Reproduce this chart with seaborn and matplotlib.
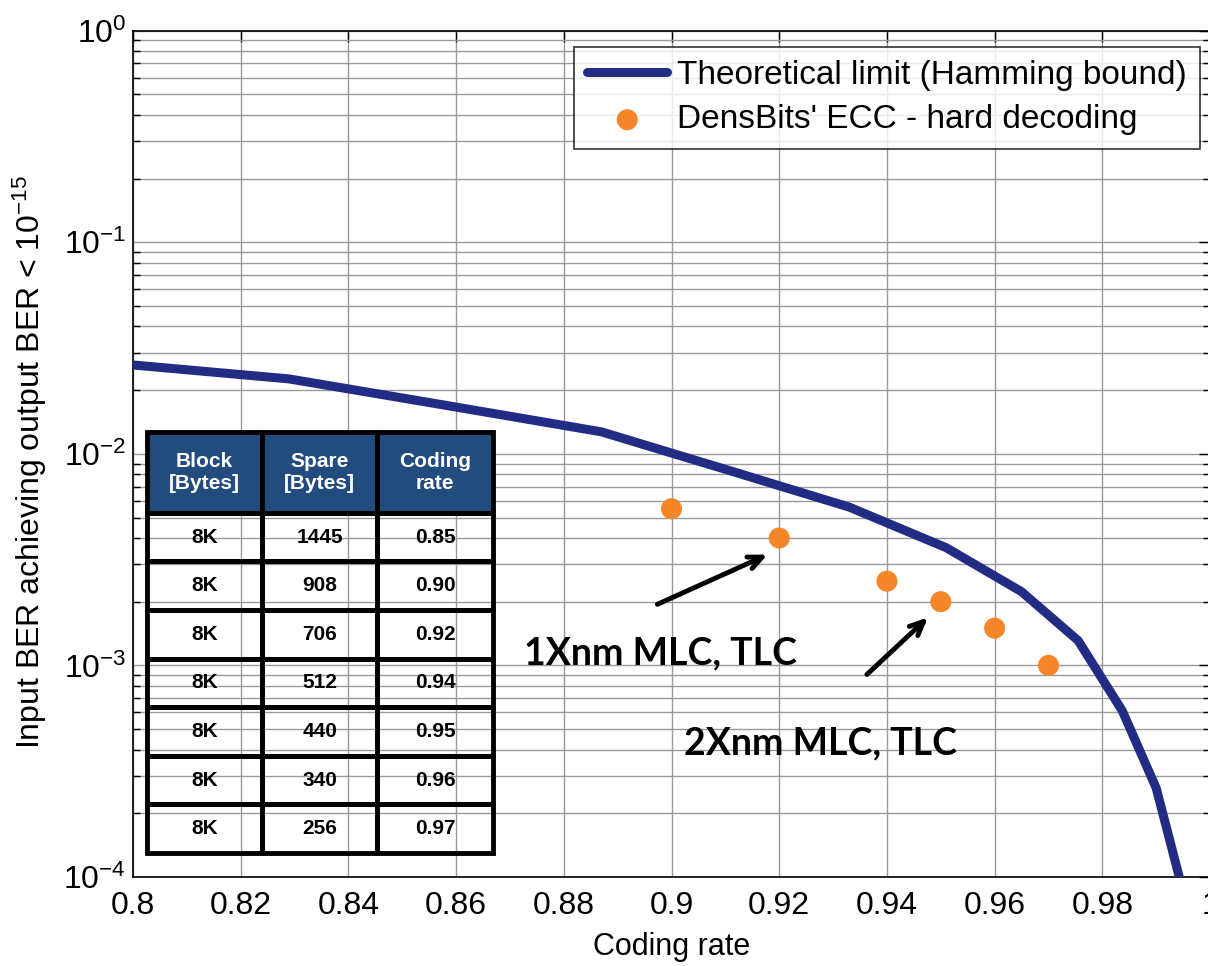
import matplotlib
matplotlib.use("Agg")
import matplotlib.pyplot as plt
import matplotlib.ticker as mticker
import numpy as np
import pandas as pd
import seaborn as sns

# Hamming bound curve
bound_rate = [0.800, 0.829, 0.859, 0.887, 0.911, 0.933, 0.951, 0.965, 0.9755, 0.9837, 0.990, 0.995]
bound_ber = [2.63e-2, 2.26e-2, 1.68e-2, 1.27e-2, 8.3e-3, 5.6e-3, 3.6e-3, 2.23e-3, 1.31e-3, 6.1e-4, 2.63e-4, 8.5e-5]

# DensBits ECC points
ecc_rate = [0.90, 0.92, 0.94, 0.95, 0.96, 0.97]
ecc_ber = [5.5e-3, 4.0e-3, 2.5e-3, 2.0e-3, 1.5e-3, 1.0e-3]

# table contents
col_labels = ["Block\n[Bytes]", "Spare\n[Bytes]", "Coding\nrate"]
block = ["8K"] * 7
spare = ["1445", "908", "706", "512", "440", "340", "256"]
coding = ["0.85", "0.90", "0.92", "0.94", "0.95", "0.96", "0.97"]

sns.set_style("white")
plt.rcParams['font.family'] = ['Liberation Sans', 'DejaVu Sans']
plt.rcParams['mathtext.fontset'] = 'custom'
plt.rcParams['mathtext.rm'] = 'Liberation Sans'
plt.rcParams['mathtext.it'] = 'Liberation Sans'
for k in ['text.color', 'axes.labelcolor', 'xtick.color', 'ytick.color']:
    plt.rcParams[k] = 'black'

fig = plt.figure(figsize=(12.08, 9.66), dpi=100)
ax = fig.add_axes([0.1101, 0.0922, 0.8916, 0.876])

line_df = pd.DataFrame({"rate": bound_rate, "ber": bound_ber})
pts_df = pd.DataFrame({"rate": ecc_rate, "ber": ecc_ber})

sns.lineplot(data=line_df, x="rate", y="ber", ax=ax, color="#232C84", lw=6.5,
             label="Theoretical limit (Hamming bound)", zorder=4)
sns.scatterplot(data=pts_df, x="rate", y="ber", ax=ax, color="#F5862A", s=230,
                marker="o", edgecolor="none", label="DensBits' ECC - hard decoding", zorder=5)

ax.set_yscale("log")
ax.set_xlim(0.8, 1.0)
ax.set_ylim(1e-4, 1e0)
ax.xaxis.set_major_locator(mticker.MultipleLocator(0.02))
ax.xaxis.set_major_formatter(mticker.FuncFormatter(lambda v, p: f"{v:.2f}".rstrip("0").rstrip(".")))
ax.yaxis.set_major_locator(mticker.LogLocator(base=10, numticks=10))
ax.yaxis.set_major_formatter(mticker.FuncFormatter(lambda v, p: f"10$^{{{int(round(np.log10(v)))}}}$"))
ax.yaxis.set_minor_locator(mticker.LogLocator(base=10, subs=np.arange(2, 10), numticks=20))
ax.yaxis.set_minor_formatter(mticker.NullFormatter())

ax.grid(True, which="major", color="#999999", lw=1.0)
ax.grid(True, which="minor", axis="y", color="#999999", lw=1.0)
ax.set_axisbelow(True)

ax.tick_params(axis="both", which="major", direction="in", length=8, width=1,
               top=True, right=True)
ax.tick_params(axis="x", labelsize=23, pad=10)
ax.tick_params(axis="y", labelsize=23, pad=5)
ax.tick_params(axis="y", which="minor", direction="in", length=5, width=1, left=True, right=True)
for sp in ax.spines.values():
    sp.set_color("black")
    sp.set_linewidth(1.2)

ax.set_xlabel("Coding rate", fontsize=22, labelpad=8)
ax.set_ylabel("Input BER achieving output BER < 10$^{-15}$", fontsize=23)
ax.yaxis.set_label_coords(-0.078, 0.49)

leg = ax.legend(loc="upper right", bbox_to_anchor=(0.991, 0.981), borderaxespad=0,
                fontsize=24, handlelength=2.4, frameon=True, fancybox=False,
                borderpad=0.4, labelspacing=0.4, handletextpad=0.3)
leg.get_frame().set_edgecolor("black")
leg.get_frame().set_linewidth(1.2)

# arrows and region labels
arrow_kw = dict(arrowstyle="->,head_length=1.0,head_width=0.45", color="black", lw=3.5)
ax.annotate("", xy=(0.9183, 3.38e-3), xytext=(0.8969, 1.92e-3), arrowprops=arrow_kw, zorder=6)
ax.annotate("", xy=(0.9480, 1.72e-3), xytext=(0.9359, 8.87e-4), arrowprops=arrow_kw, zorder=6)
ax.text(0.8979, 1.14e-3, "1Xnm MLC, TLC", fontsize=27, fontweight="bold",
        family=["Lato", "DejaVu Sans"], ha="center", va="center")
ax.text(0.9276, 4.29e-4, "2Xnm MLC, TLC", fontsize=27, fontweight="bold",
        family=["Lato", "DejaVu Sans"], ha="center", va="center")

# table
cell_text = [[b, s, c] for b, s, c in zip(block, spare, coding)]
tbl = ax.table(cellText=cell_text, colLabels=col_labels, cellLoc="center",
               bbox=[0.013, 0.0284, 0.321, 0.4976], zorder=7)
tbl.auto_set_font_size(False)
for (r, c), cell in tbl.get_celld().items():
    cell.set_edgecolor("black")
    cell.set_linewidth(3.5)
    if r == 0:
        cell.set_height(80)
        cell.set_facecolor("#224B7E")
        cell.get_text().set_color("white")
        cell.get_text().set_fontsize(15)
    else:
        cell.set_height(48)
        cell.set_facecolor("none")
        cell.get_text().set_fontsize(15)
    cell.get_text().set_fontweight("bold")
    cell.get_text().set_family(["Liberation Sans", "DejaVu Sans"])

fig.savefig("out.png", dpi=100)
